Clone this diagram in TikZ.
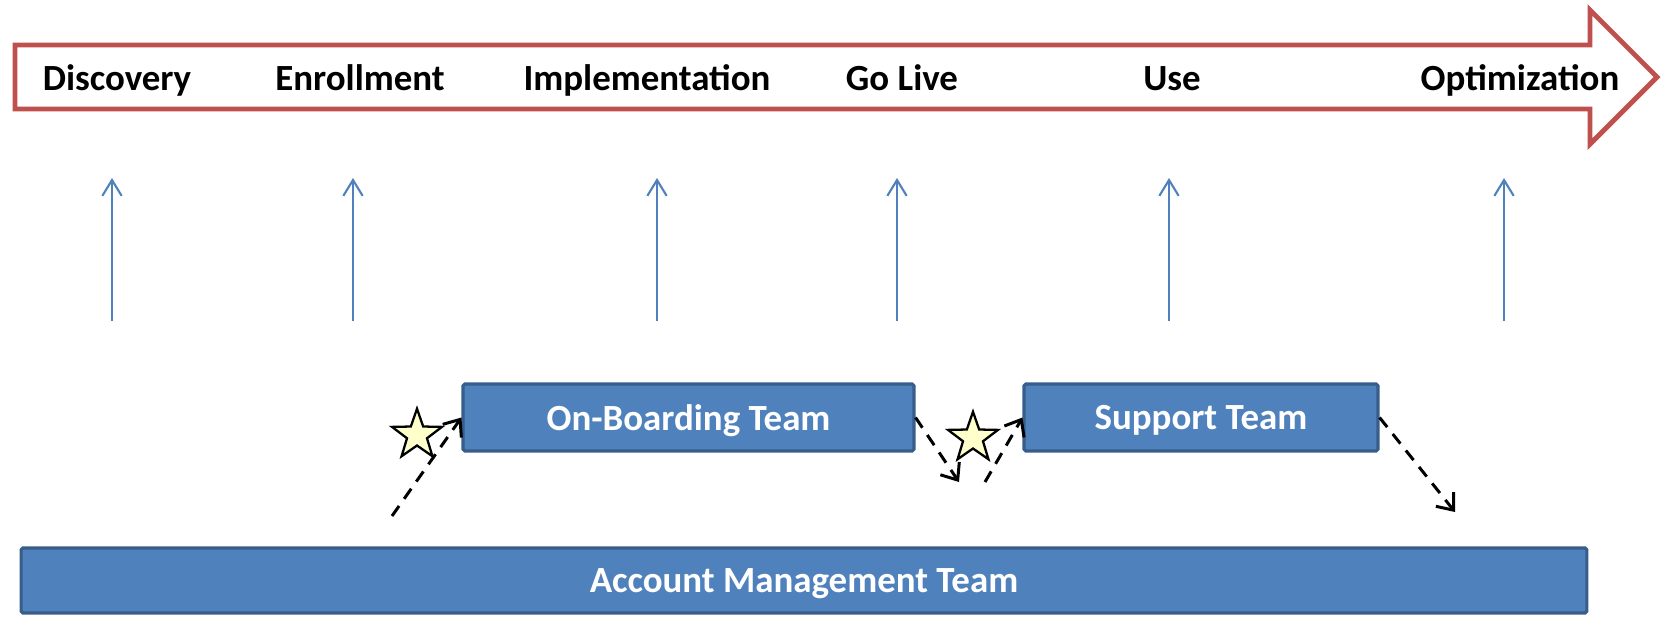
\documentclass[tikz,border=0pt]{standalone}
\usepackage{fontspec}
\setmainfont{Carlito}
\usetikzlibrary{arrows.meta,shapes.geometric}
\definecolor{arrowred}{HTML}{C0504D}
\definecolor{teamblue}{HTML}{4F81BD}
\definecolor{teamedge}{HTML}{385D8A}
\definecolor{starfill}{HTML}{FFFFCC}

\begin{document}
\begin{tikzpicture}[x=0.02cm,y=-0.02cm]
\tikzset{phase/.style={anchor=base,font=\fontsize{21}{25}\selectfont\bfseries},
team/.style={draw=teamedge,fill=teamblue,line width=1.8pt,rounded corners=1pt,
    text=white,font=\fontsize{21}{25}\selectfont\bfseries,inner sep=0pt,text depth=0pt},
up/.style={draw=teamblue,line width=1.2pt,-{Straight Barb[length=9pt,width=11pt]}},
handoff/.style={line width=1.7pt,dash pattern=on 7pt off 5pt,
    -{Straight Barb[length=8pt,width=13pt]}},
hint/.style={star,star points=5,star point ratio=2.5,draw,fill=starfill,
    line width=1.3pt,minimum size=1.05cm,inner sep=0pt}}
\useasboundingbox (0,0) rectangle (1662,620);
% timeline
\draw[arrowred,line width=2.8pt,fill=white,miter limit=10]
    (15,45) -- (1590,45) -- (1590,10) -- (1657,77) -- (1590,144) -- (1590,109) -- (15,109) -- cycle;
\node[phase] (disc) at (117,90) {Discovery};
\node[phase] (enr) at (360,90) {Enrollment};
\node[phase] (impl) at (647,90) {Implementation};
\node[phase] (live) at (902,90) {Go Live};
\node[phase] (use) at (1172,90) {Use};
\node[phase] (opt) at (1520,90) {Optimization};
% pointers
\foreach \x/\n in {112/a,353/b,657/c,897/d,1169/e,1504/f}{
    \coordinate (lo\n) at (\x,321);
    \coordinate (hi\n) at (\x,178);
    \draw[up] (lo\n) -- (hi\n);
}
% teams
\node[team,minimum width=9.02cm,minimum height=1.34cm] (ob) at (688.5,417.5) {On-Boarding Team};
\node[team,minimum width=7.08cm,minimum height=1.34cm] (sup) at (1201,417.5) {Support Team};
\node[team,minimum width=31.32cm,minimum height=1.3cm] (acct) at (804,580.5) {Account Management Team};
% hand-offs
\coordinate (h1) at (392,516);
\coordinate (h2) at (959,482);
\coordinate (h3) at (985,482);
\coordinate (h4) at (1455,512);
\draw[handoff] (h1) -- (ob.west);
\draw[handoff] (ob.east) -- (h2);
\draw[handoff] (h3) -- (sup.west);
\draw[handoff] (sup.east) -- (h4);
\node[hint] (st1) at (417,435) {};
\node[hint] (st2) at (973,438) {};
\end{tikzpicture}
\end{document}
